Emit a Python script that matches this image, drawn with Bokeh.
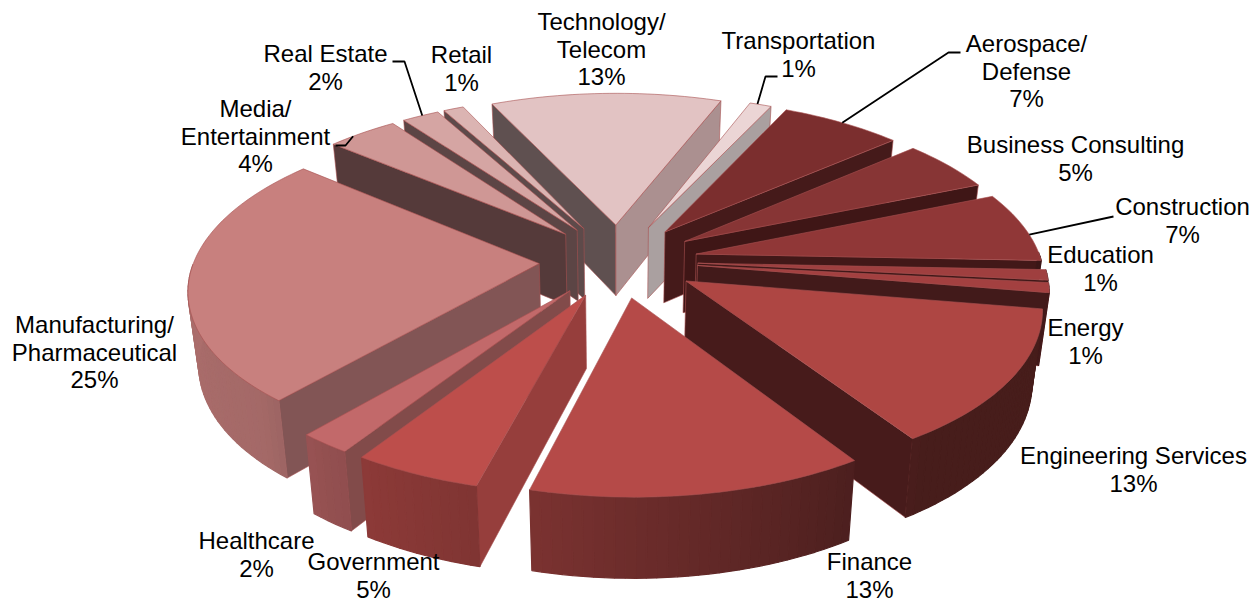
import numpy as np
from bokeh.plotting import figure
from bokeh.models import ColumnDataSource
from bokeh.core.properties import value
from bokeh.embed import file_html
from bokeh.resources import INLINE

# ---- data
categories = ["Aerospace/\nDefense", "Business Consulting", "Construction", "Education", "Energy",
              "Engineering Services", "Finance", "Government", "Healthcare",
              "Manufacturing/\nPharmaceutical", "Media/\nEntertainment", "Real Estate", "Retail",
              "Technology/\nTelecom", "Transportation"]
percent_labels = [7, 5, 7, 1, 1, 13, 13, 5, 2, 25, 4, 2, 1, 13, 1]
shares = [6.61, 5.14, 6.94, 1.03, 0.97, 13.2, 13.2, 5.08, 2.08, 24.94, 3.86, 2.03, 1.11, 12.61, 1.19]

# ---- styling
top_colors = ["#7b2e2e", "#873535", "#903737", "#9f3f3f", "#a34040", "#ae4643", "#b54a48", "#bd4e4b",
              "#c2696a", "#c8807e", "#cf9795", "#d5a5a3", "#dbb4b2", "#e2c3c3", "#ebd5d5"]
start_wall = ["#451a1a", "#3f1616", "#421818", "#401818", "#421a1a", "#471b1b", "#4f2020", "#963e3c",
              "#824b4a", "#825555", "#553a3a", "#5c4545", "#5e4a4a", "#5f5050", "#655a5a"]
end_wall = ["#451a1a", "#3f1616", "#421818", "#401818", "#421a1a", "#471b1b", "#4f2020", "#963e3c",
            "#824b4a", "#825555", "#553a3a", "#5c4545", "#5e4a4a", "#ab9090", "#aaa0a0"]
edge_colors = "#a85050"
START = 25.0
EXPLODE = 0.23
CX, CY, AX, BY, PERSP, SHRINK, DEPTH = 618.0, 260.0, 345.0, 159.5, 0.141, 0.975, 72.0
shade_angle = [90, 145, 193, 217, 225, 270]
shade_value = [0.41, 0.41, 0.67, 0.76, 0.82, 0.86]

# label layout: (centre x, first-line centre y)
label_pos = [(1026, 43), (1075, 144), (1182, 206), (1100, 254), (1085, 327), (1133, 455), (869, 561),
             (373, 561), (256, 540), (94, 324), (255, 108), (325, 53), (461, 54), (601, 21), (798, 40)]
LINE_H = 27.5
# leader layout: slice index, arc fraction, label-side points
leaders = [(0, 0.50, [(960, 52), (948, 52)]),
           (2, 0.62, [(1113, 216)]),
           (10, 0.35, [(335, 145), (345, 145)]),
           (11, 0.55, [(392, 61), (404, 61)]),
           (14, 0.35, [(777, 76), (765, 76)])]


def project(u, v, z):
    w = 1.0 / (1.0 - PERSP * v)
    s = 1.0 - (1.0 - SHRINK) * z
    return CX + AX * u * w * s, CY + BY * v * w * s + DEPTH * w * z


def plane(t_deg, r, bis_deg):
    t, b = np.radians(t_deg), np.radians(bis_deg)
    return EXPLODE * np.sin(b) + r * np.sin(t), -(EXPLODE * np.cos(b) + r * np.cos(t))


def shaded(hex_col, f):
    rgb = [int(hex_col[i:i + 2], 16) for i in (1, 3, 5)]
    return "#%02x%02x%02x" % tuple(int(round(c * f)) for c in rgb)


total = sum(shares)
edges = START + np.concatenate([[0], np.cumsum(shares)]) * 360.0 / total
slices = []
for i in range(len(shares)):
    a0, a1 = edges[i], edges[i + 1]
    bis = (a0 + a1) / 2
    slices.append((plane(bis, 0, bis)[1], i, a0, a1, bis))
slices.sort()

xs, ys, fills, lines, widths = [], [], [], [], []


def add(x, y, fill, line, width=0.6):
    xs.append(list(x)); ys.append(list(y)); fills.append(fill); lines.append(line); widths.append(width)


for _, i, a0, a1, bis in slices:
    ts = np.linspace(a0, a1, max(3, int((a1 - a0) / 1.5) + 2))
    u, v = plane(ts, 1.0, bis)
    tu, tv = plane(bis, 0.0, bis)
    walls = []
    if -np.cos(np.radians(a0 - 90)) > 0:
        walls.append((a0, start_wall[i]))
    if -np.cos(np.radians(a1 + 90)) > 0:
        walls.append((a1, end_wall[i]))
    for ang, col in walls:
        eu, ev = plane(ang, 1.0, bis)
        px, py = zip(project(tu, tv, 0), project(eu, ev, 0), project(eu, ev, 1), project(tu, tv, 1))
        add(px, py, col, edge_colors)
    for j in range(len(ts) - 1):
        tm = ((ts[j] + ts[j + 1]) / 2) % 360
        if not 90 < tm < 270:
            continue
        col = shaded(top_colors[i], float(np.interp(tm, shade_angle, shade_value)))
        pts = [project(u[j], v[j], 0), project(u[j + 1], v[j + 1], 0),
               project(u[j + 1], v[j + 1], 1), project(u[j], v[j], 1)]
        add([q[0] for q in pts], [q[1] for q in pts], col, col, 1.2)
    tx, ty = project(tu, tv, 0)
    ax, ay = project(u, v, 0)
    add(np.r_[tx, ax], np.r_[ty, ay], top_colors[i], edge_colors)

p = figure(width=1260, height=604, x_range=(0, 1260), y_range=(604, 0), toolbar_location=None,
           output_backend="svg", min_border=0, outline_line_color=None, background_fill_color="white")
p.axis.visible = False
p.grid.visible = False
p.patches("xs", "ys", fill_color="fill", line_color="line", line_width="lw",
          source=ColumnDataSource(dict(xs=xs, ys=ys, fill=fills, line=lines, lw=widths)))

for idx, frac, pts in leaders:
    a0, a1 = edges[idx], edges[idx + 1]
    bis = (a0 + a1) / 2
    ex, ey = project(*plane(a0 + frac * (a1 - a0), 1.0, bis), 0)
    p.line([q[0] for q in pts] + [ex], [q[1] for q in pts] + [ey], line_color="black", line_width=1.8)

lx, ly, lt = [], [], []
for cat, pct, (x, y) in zip(categories, percent_labels, label_pos):
    for n, line in enumerate(cat.split("\n") + [f"{pct}%"]):
        lx.append(x); ly.append(y + n * LINE_H); lt.append(line)
p.text(lx, ly, text=lt, text_font=value("Liberation Sans"), text_font_size="24px", text_color="black",
       text_align="center", text_baseline="middle")

open("out.html", "w").write(file_html(p, INLINE))
